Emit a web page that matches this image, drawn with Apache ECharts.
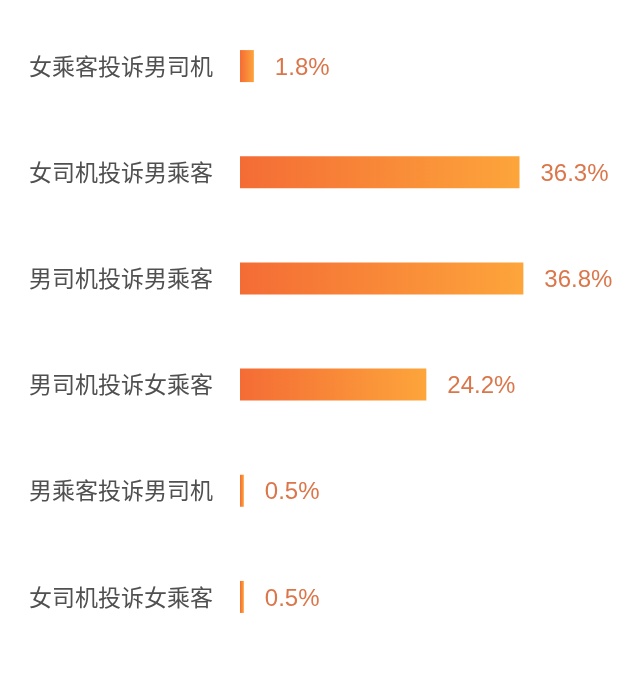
<!DOCTYPE html>
<html>
<head>
<meta charset="utf-8">
<script src="https://cdn.jsdelivr.net/npm/echarts@6/dist/echarts.min.js"></script>
<style>html,body{margin:0;padding:0;background:#fff;}#c{width:640px;height:696px;}</style>
</head>
<body>
<div id="c"></div>
<script>
var categories = ['女乘客投诉男司机','女司机投诉男乘客','男司机投诉男乘客','男司机投诉女乘客','男乘客投诉男司机','女司机投诉女乘客'];
var values = [1.8, 36.3, 36.8, 24.2, 0.5, 0.5];

var chart = echarts.init(document.getElementById('c'));
chart.setOption({
  backgroundColor: '#fff',
  animation: false,
  grid: { left: 240, right: 92, top: 13, bottom: 46, containLabel: false },
  xAxis: { type: 'value', min: 0, max: 40, show: false },
  yAxis: {
    type: 'category', data: categories, inverse: true,
    axisLine: { show: false }, axisTick: { show: false }, splitLine: { show: false },
    axisLabel: { margin: 27, fontSize: 23, color: '#505050', fontFamily: 'Noto Sans CJK SC' }
  },
  series: [{
    type: 'bar', data: values, barWidth: 32,
    itemStyle: {
      color: new echarts.graphic.LinearGradient(0, 0, 1, 0, [
        { offset: 0, color: '#F46C35' },
        { offset: 1, color: '#FDA53B' }
      ])
    },
    label: {
      show: true, position: 'right', distance: 21, offset: [0, 2],
      formatter: function (p) { return p.value.toFixed(1) + '%'; },
      fontSize: 24, color: '#DB764B', fontFamily: 'Liberation Sans'
    }
  }]
});
</script>
</body>
</html>
